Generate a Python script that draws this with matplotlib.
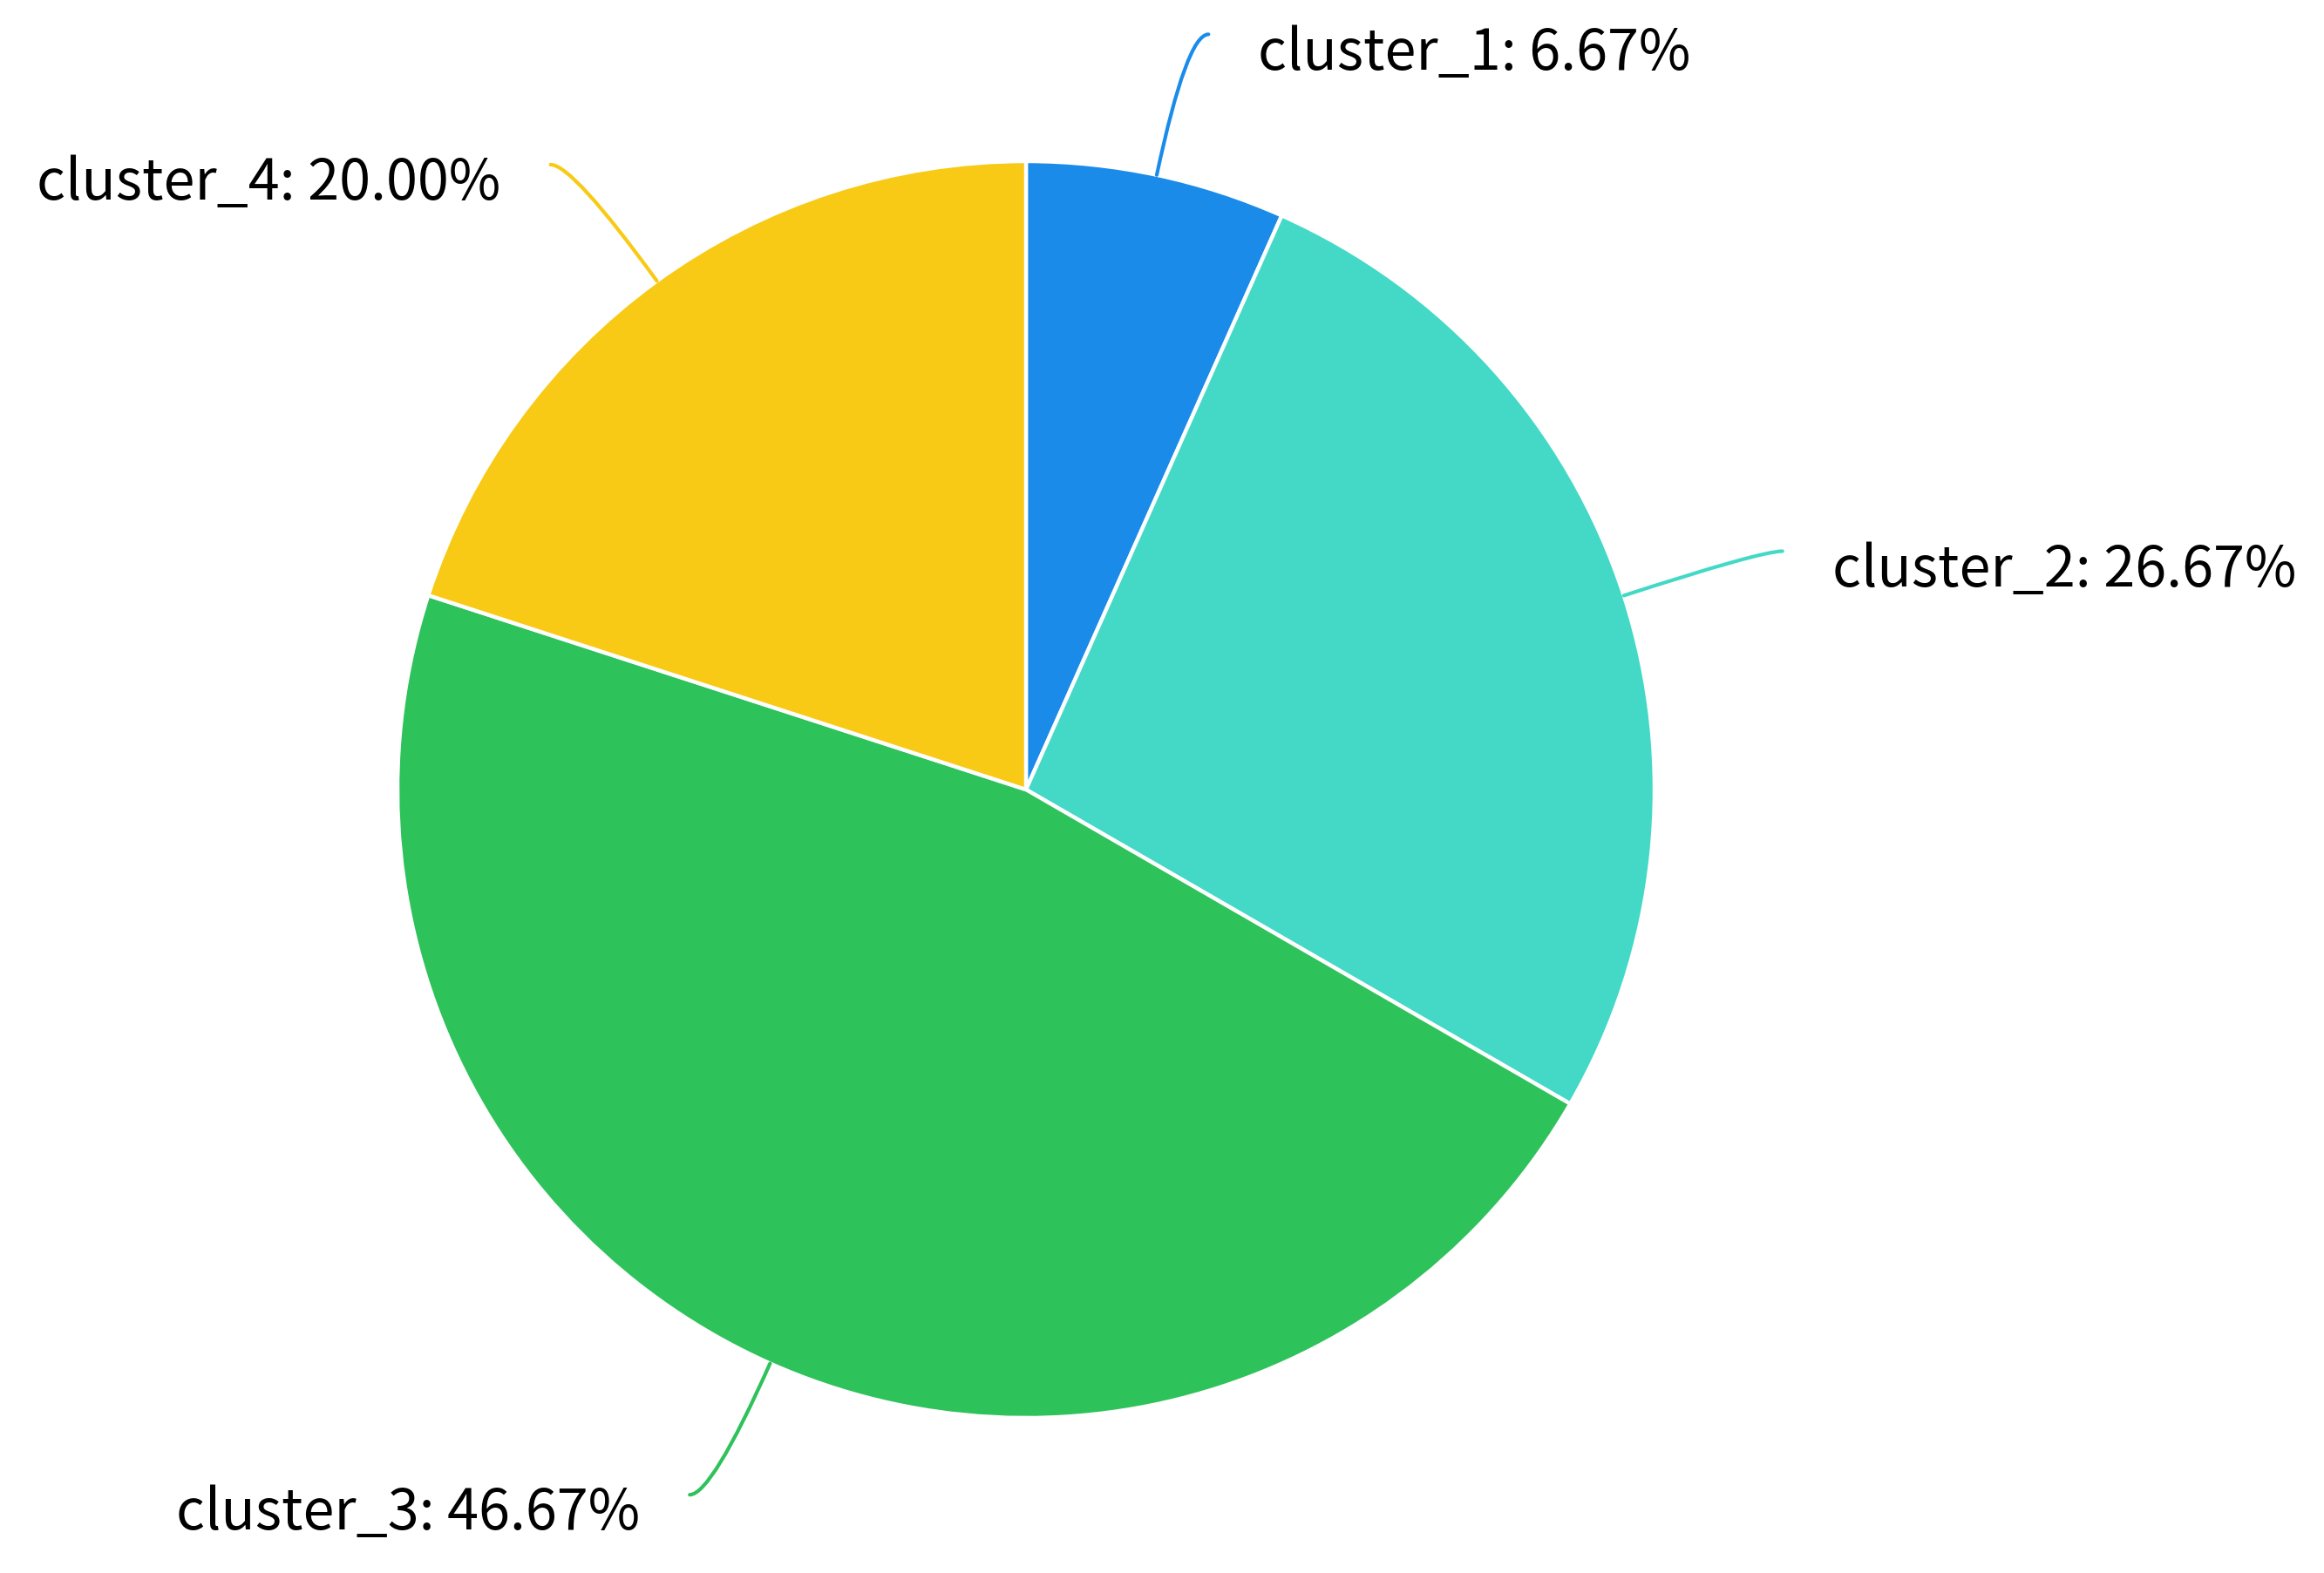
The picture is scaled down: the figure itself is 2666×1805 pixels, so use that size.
#!/usr/bin/env python3
import numpy as np
import matplotlib.pyplot as plt
from matplotlib.path import Path
from matplotlib.patches import PathPatch

# data
labels = ["cluster_1", "cluster_2", "cluster_3", "cluster_4"]
shares = [6.67, 26.67, 46.67, 20.00]
colors = ["#1B8BEA", "#43D9C6", "#2EC25B", "#F8CA15"]

# layout (pixel canvas)
W, H = 2666, 1805
cx, cy = 1177, H - 906
radius = 721
len1, len2, gap = 165, 25, 57

fig = plt.figure(figsize=(W / 200, H / 200), dpi=200)
ax = fig.add_axes([0, 0, 1, 1])

ax.pie(
    shares,
    colors=colors,
    startangle=90,
    counterclock=False,
    center=(cx, cy),
    radius=radius,
    wedgeprops=dict(edgecolor="white", linewidth=1.6),
    frame=True,
)
ax.set_xlim(0, W)
ax.set_ylim(0, H)
ax.set_aspect("equal")
ax.axis("off")

cum = 0.0
for lab, v, col in zip(labels, shares, colors):
    theta = np.radians(90 - (cum + v / 2) * 3.6)
    cum += v
    d = np.array([np.cos(theta), np.sin(theta)])
    c = np.array([cx, cy])
    p0 = c + radius * d
    p1 = c + (radius + len1) * d
    side = 1 if d[0] > 0 else -1
    p2 = p1 + np.array([side * len2, 0])
    path = Path([p0, p1, p2], [Path.MOVETO, Path.CURVE3, Path.CURVE3])
    ax.add_patch(PathPatch(path, fc="none", ec=col, lw=1.5, capstyle="round"))
    ax.text(
        p2[0] + side * gap,
        p2[1] - 22,
        f"{lab}: {v:.2f}%",
        ha="left" if side > 0 else "right",
        va="center",
        fontsize=23.3,
        color="black",
        family=["Noto Sans CJK SC", "DejaVu Sans"],
    )

fig.savefig("out.png", dpi=200, facecolor="white")
